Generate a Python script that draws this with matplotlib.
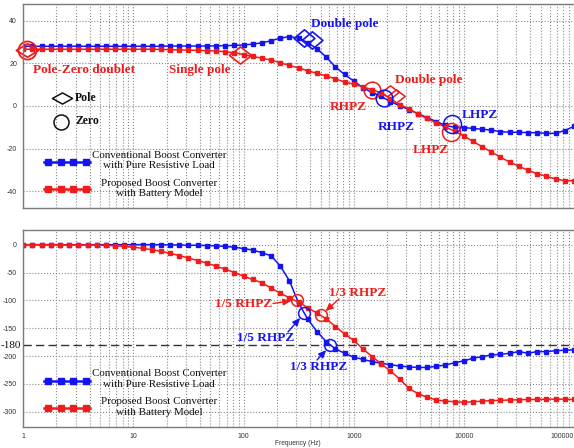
import matplotlib
matplotlib.use('Agg')
import matplotlib.pyplot as plt
from matplotlib.path import Path
from matplotlib.lines import Line2D
from matplotlib.ticker import FixedLocator, NullFormatter, LogLocator

# ---------------- data ----------------
freq = [1, 1.21, 1.47, 1.78, 2.15, 2.61, 3.16, 3.83, 4.64, 5.62, 6.81, 8.25,
        10, 12.1, 14.7, 17.8, 21.5, 26.1, 31.6, 38.3, 46.4, 56.2, 68.1, 82.5,
        100, 121, 147, 178, 215, 261, 316, 383, 464, 562, 681, 825,
        1000, 1210, 1470, 1780, 2150, 2610, 3160, 3830, 4640, 5620, 6810, 8250,
        10000, 12100, 14700, 17800, 21500, 26100, 31600, 38300, 46400, 56200, 68100, 82500,
        100000]

mag_conv = [28.0, 28.0, 28.0, 28.0, 28.0, 28.0, 28.0, 28.0, 28.0, 28.0, 28.0, 28.0,
            28.0, 28.0, 28.0, 28.0, 28.1, 28.1, 28.1, 28.1, 28.1, 28.2, 28.3, 28.4,
            28.6, 29.0, 29.6, 30.6, 31.8, 32.5, 31.8, 29.7, 26.8, 23.0, 18.3, 14.8,
            11.7, 8.6, 6.3, 4.5, 2.0, 0.2, -1.7, -3.6, -5.4, -7.3, -9.1, -10.0,
            -10.1, -10.5, -10.9, -11.3, -12.0, -12.3, -12.3, -12.5, -12.5, -12.8, -12.8, -11.5,
            -9.5]

mag_prop = [26.6, 26.6, 26.6, 26.6, 26.6, 26.6, 26.6, 26.6, 26.6, 26.6, 26.6, 26.6,
            26.6, 26.6, 26.6, 26.5, 26.4, 26.3, 26.2, 26.1, 25.9, 25.8, 25.4, 25.0,
            24.1, 23.2, 22.4, 21.5, 20.3, 19.0, 17.8, 16.5, 15.3, 14.1, 12.7, 11.3,
            10.2, 9.0, 7.6, 6.2, 3.4, 0.6, -1.2, -3.8, -5.8, -8.0, -9.8, -11.9,
            -14.0, -16.6, -19.1, -21.6, -24.0, -26.3, -28.2, -30.2, -31.7, -33.0, -34.2, -35.0,
            -35.0]

phase_conv = [0, 0, 0, 0, 0, 0, 0, 0, 0, 0, 0, 0,
              0, 0, 0, 0, -0.5, -0.5, -1, -1, -1.5, -2, -3, -4.5,
              -7, -9.5, -14.5, -20, -38, -65, -105, -134, -156, -174, -187, -195,
              -202, -206, -210, -213, -215.5, -218, -219.5, -220.5, -220.5, -218.5, -216, -212,
              -208.5, -204, -201, -198, -197, -195, -192, -195, -192, -192, -190.5, -189.5,
              -189]

phase_prop = [0, 0, 0, 0, -0.2, -0.3, -0.4, -0.5, -0.6, -1.2, -2, -3,
              -4.5, -6.5, -9, -12, -15.5, -19.5, -24, -28.5, -33, -38.5, -44, -50,
              -56.5, -62.5, -68.5, -78, -87, -95.5, -103.5, -113, -123, -133, -147, -160,
              -172, -187, -201, -214, -227, -241, -258, -267.5, -274, -279, -281, -282,
              -283, -282, -281, -280, -279.5, -279, -278.5, -278, -278, -277.5, -277.5, -277.5,
              -278]

# annotated pole / zero locations (freq, value)
pz_doublet = (1.09, 26.3)
single_pole = (93.3, 23.9)
dpole_conv_f, dpole_conv_v = [351, 419], [31.7, 30.9]
dpole_prop_f, dpole_prop_v = [2113, 2445], [6.6, 4.7]
rhpz_prop = (1469, 7.5)
rhpz_conv = (1875, 3.7)
lhpz_conv = (7850, -8.4)
lhpz_prop = (7570, -12.2)
ph_rhpz15_prop = (306, -99.3)
ph_rhpz13_prop = (503, -127)
ph_rhpz15_conv = (355, -123)
ph_rhpz13_conv = (614, -181)

x_ticks = [1, 10, 100, 1000, 10000, 100000]
x_ticklabels = ['1', '10', '100', '1000', '10000', '100000']
mag_ticks = [40, 20, 0, -20, -40]
phase_ticks = [0, -50, -100, -150, -200, -250, -300]

# ---------------- style ----------------
BLUE = '#1414f0'
RED = '#f01c1c'
SERIF = 'Liberation Serif'
SANS = 'Liberation Sans'
W, H = 574, 448

def fx(px):
    return px / W

def fy(py):
    return 1 - py / H

fig = plt.figure(figsize=(W / 100, H / 100), dpi=100)
fig.patch.set_facecolor('white')

ax1 = fig.add_axes([fx(23.3), fy(208), fx(574) - fx(23.3), fy(4) - fy(208)])
ax2 = fig.add_axes([fx(23.3), fy(427.3), fx(574) - fx(23.3), fy(230) - fy(427.3)])

for ax in (ax1, ax2):
    ax.set_xscale('log')
    ax.set_xlim(1, 100000)
    ax.xaxis.set_major_locator(FixedLocator(x_ticks))
    ax.xaxis.set_minor_locator(LogLocator(base=10, subs=range(2, 10), numticks=20))
    ax.xaxis.set_major_formatter(NullFormatter())
    ax.xaxis.set_minor_formatter(NullFormatter())
    ax.grid(True, which='both', axis='x', ls=':', color='#8a8a8a', lw=0.8)
    ax.grid(True, which='major', axis='y', ls=':', color='#8a8a8a', lw=0.8)
    ax.tick_params(which='both', length=0, labelsize=5, labelcolor='#333333', pad=4.5)
    for s in ('top', 'bottom', 'left'):
        ax.spines[s].set_color('#7a7a7a')
        ax.spines[s].set_linewidth(1.0)
    ax.spines['right'].set_visible(False)
    ax.set_axisbelow(True)

curve_kw = dict(lw=1.1, marker='s', ms=2.8)

# ---- magnitude ----
ax1.set_ylim(-47.8, 47.8)
ax1.set_yticks(mag_ticks)
ax1.set_yticklabels([str(t) for t in mag_ticks], fontfamily=SANS)
ax1.plot(freq, mag_conv, color=BLUE, **curve_kw)
ax1.plot(freq, mag_prop, color=RED, **curve_kw)

def diamond(ratio):
    return Path([(0, 1), (ratio, 0), (0, -1), (-ratio, 0), (0, 1)],
                [Path.MOVETO, Path.LINETO, Path.LINETO, Path.LINETO, Path.CLOSEPOLY])

hollow = dict(ls='none', mfc='none', clip_on=False)
ax1.plot(*pz_doublet, marker='o', ms=13, mec=RED, mew=1.3, **hollow)
ax1.plot(*pz_doublet, marker=diamond(1.65), ms=16, mec=RED, mew=1.3, **hollow)
ax1.plot(*single_pole, marker=diamond(1.3), ms=16, mec=RED, mew=1.2, **hollow)
ax1.plot(dpole_conv_f, dpole_conv_v, marker=diamond(1.2), ms=15, mec=BLUE, mew=1.2, **hollow)
ax1.plot(dpole_prop_f, dpole_prop_v, marker=diamond(1.3), ms=12.5, mec=RED, mew=1.1, **hollow)
ax1.plot(*rhpz_prop, marker='o', ms=12, mec=RED, mew=1.1, **hollow)
ax1.plot(*rhpz_conv, marker='o', ms=12, mec=BLUE, mew=1.1, **hollow)
ax1.plot(*lhpz_conv, marker='o', ms=13, mec=BLUE, mew=1.1, **hollow)
ax1.plot(*lhpz_prop, marker='o', ms=13, mec=RED, mew=1.1, **hollow)

# ---- phase ----
ax2.set_ylim(-328, 26.4)
ax2.set_yticks(phase_ticks)
ax2.set_yticklabels([str(t) for t in phase_ticks], fontfamily=SANS)
ax2.axhline(-180, color='#333333', ls=(0, (6, 3)), lw=1.0, zorder=1)
ax2.plot(freq, phase_conv, color=BLUE, **curve_kw)
ax2.plot(freq, phase_prop, color=RED, **curve_kw)
for pt, col in ((ph_rhpz15_prop, RED), (ph_rhpz13_prop, RED),
                (ph_rhpz15_conv, BLUE), (ph_rhpz13_conv, BLUE)):
    ax2.plot(*pt, marker='o', ms=8.5, mec=col, mew=1.1, **hollow)

# x tick labels (bottom only)
for xv, lab in zip(x_ticks, x_ticklabels):
    ax2.text(xv, -0.045, lab, transform=ax2.get_xaxis_transform(),
             ha='right' if xv == 100000 else 'center', va='center',
             fontsize=5, color='#333333', fontfamily=SANS)
fig.text(fx(298), fy(443), 'Frequency (Hz)', ha='center', va='center',
         fontsize=4.8, color='#333333', fontfamily=SANS)
fig.text(fx(1), fy(345), '-180', ha='left', va='center', fontsize=8,
         fontfamily=SERIF, color='#111111')

# ---------------- annotation texts ----------------
def btxt(x, y, s, col, size=9.5, ha='center'):
    fig.text(fx(x), fy(y), s, ha=ha, va='center', fontsize=size,
             fontfamily=SERIF, fontweight='bold', color=col)

btxt(84, 70, 'Pole-Zero doublet', RED)
btxt(200, 70, 'Single pole', RED)
btxt(345, 24, 'Double pole', BLUE)
btxt(348, 107, 'RHPZ', RED)
btxt(429, 80, 'Double pole', RED)
btxt(396, 127, 'RHPZ', BLUE)
btxt(480, 115, 'LHPZ', BLUE)
btxt(431, 150, 'LHPZ', RED)
btxt(75, 98, 'Pole', '#111111', size=8.5, ha='left')
btxt(75, 121, 'Zero', '#111111', size=8.5, ha='left')

# pole / zero key symbols
fig.add_artist(Line2D([fx(61.5)], [fy(98)], marker=diamond(1.8), ms=14.5, mfc='none',
                      mec='#111111', mew=1.1, ls='none'))
fig.add_artist(Line2D([fx(61)], [fy(121.5)], marker='o', ms=10.8, mfc='none',
                      mec='#111111', mew=1.1, ls='none'))

btxt(243.5, 304, '1/5 RHPZ', RED)
btxt(357.5, 293, '1/3 RHPZ', RED)
btxt(266, 338, '1/5 RHPZ', BLUE)
btxt(319, 367, '1/3 RHPZ', BLUE)

def arrow(ax, target, start_px, col):
    ax.annotate('', xy=target, xycoords='data',
                xytext=(fx(start_px[0]), fy(start_px[1])), textcoords='figure fraction',
                arrowprops=dict(arrowstyle='-|>,head_length=0.45,head_width=0.2', color=col,
                                lw=1.0, shrinkA=0, shrinkB=4.5))

arrow(ax2, ph_rhpz15_prop, (273, 303.5), RED)
arrow(ax2, ph_rhpz13_prop, (339, 299), RED)
arrow(ax2, ph_rhpz15_conv, (288, 332), BLUE)
arrow(ax2, ph_rhpz13_conv, (317, 360), BLUE)

# ---------------- legends ----------------
def legend_entry(y_line, y_text, col, text):
    fig.add_artist(Line2D([fx(44), fx(90)], [fy(y_line), fy(y_line)], color=col, lw=1.8))
    fig.add_artist(Line2D([fx(48.3), fx(60.7), fx(73.3), fx(86)], [fy(y_line)] * 4,
                          ls='none', marker='s', ms=4.6, color=col))
    fig.text(fx(159), fy(y_text), text, ha='center', va='center', multialignment='center',
             fontsize=7.9, fontfamily=SERIF, color='#111111', linespacing=1.22)

legend_entry(162, 160.5, BLUE, 'Conventional Boost Converter\nwith Pure Resistive Load')
legend_entry(189.5, 188.5, RED, 'Proposed Boost Converter\nwith Battery Model')
legend_entry(381, 379, BLUE, 'Conventional Boost Converter\nwith Pure Resistive Load')
legend_entry(407.7, 407, RED, 'Proposed Boost Converter\nwith Battery Model')

fig.savefig('out.png', dpi=100)
